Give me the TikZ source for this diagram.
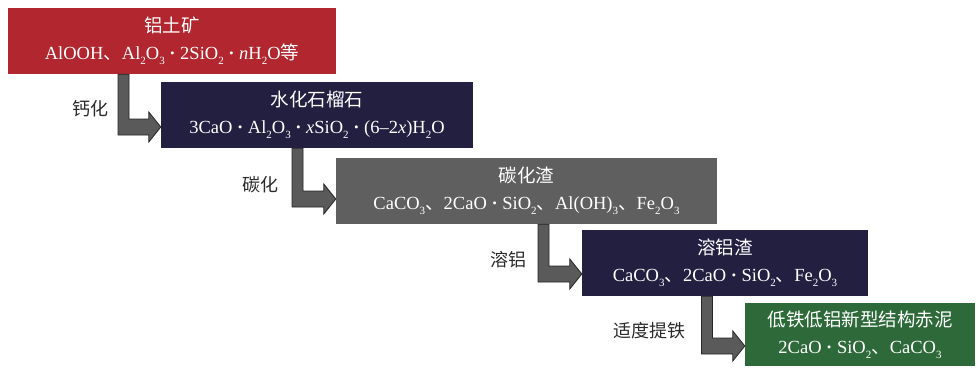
\documentclass[tikz,border=0pt]{standalone}
\usepackage{fontspec}
\setmainfont{Liberation Serif}
\newfontfamily\cjk{Noto Sans CJK SC}
\usetikzlibrary{calc}
\definecolor{cred}{HTML}{B1262F}
\definecolor{cnavy}{HTML}{231F40}
\definecolor{cgray}{HTML}{5F5F5F}
\definecolor{cgreen}{HTML}{2E6A39}
\definecolor{carrow}{HTML}{5A5A5A}
\definecolor{clabel}{HTML}{2A2A2A}
\newcommand\sbt[1]{\raisebox{-0.55ex}{\fontsize{11}{11}\selectfont #1}}
\newcommand\dun{{\cjk 、}}
\newcommand\mdt{\ \textbf{·}\ }
% #1 source node, #2 target node, #3 shaft centre x, #4 tip y (pixels, downward)
\newcommand\elbow[4]{%
  \draw[flowarrow] let \p1=(#1.south), \p2=(#2.west) in
    (#3-5.5,\y1) -- (#3+5.5,\y1) -- (#3+5.5,-#4+8) -- (\x2-12,-#4+8)
    -- (\x2-12,-#4+15) -- (\x2,-#4) -- (\x2-12,-#4-15) -- (\x2-12,-#4-8)
    -- (#3-5.5,-#4-8) -- cycle;}
\begin{document}
\begin{tikzpicture}[x=1pt,y=1pt,
  box/.style={inner sep=0pt, text=white, align=center,
    font=\fontsize{18.5}{27}\selectfont},
  lbl/.style={text=clabel, font=\cjk\fontsize{18}{20}\selectfont, inner sep=0pt},
  flowarrow/.style={fill=carrow, draw=black!85, line width=0.8pt, line join=miter}]
\useasboundingbox (0,0) rectangle (980,-367);

\node[box, fill=cred, minimum width=328pt, minimum height=66pt] (b1) at (172,-41)
  {{\cjk 铝土矿}\\AlOOH\dun Al\sbt2O\sbt3\mdt 2SiO\sbt2\mdt\textit{n}H\sbt2O{\cjk 等}};
\node[box, fill=cnavy, minimum width=312pt, minimum height=66pt] (b2) at (317,-115)
  {{\cjk 水化石榴石}\\3CaO\mdt Al\sbt2O\sbt3\mdt\textit{x}SiO\sbt2\mdt(6–2\textit{x})H\sbt2O};
\node[box, fill=cgray, minimum width=381pt, minimum height=66pt] (b3) at (526.5,-191)
  {{\cjk 碳化渣}\\CaCO\sbt3\dun 2CaO\mdt SiO\sbt2\dun Al(OH)\sbt3\dun Fe\sbt2O\sbt3};
\node[box, fill=cnavy, minimum width=286pt, minimum height=66pt] (b4) at (725,-263)
  {{\cjk 溶铝渣}\\CaCO\sbt3\dun 2CaO\mdt SiO\sbt2\dun Fe\sbt2O\sbt3};
\node[box, fill=cgreen, minimum width=230pt, minimum height=63pt] (b5) at (860,-334.5)
  {{\cjk 低铁低铝新型结构赤泥}\\2CaO\mdt SiO\sbt2\dun CaCO\sbt3};

\elbow{b1}{b2}{123.5}{127}
\elbow{b2}{b3}{297.5}{199}
\elbow{b3}{b4}{543.5}{274}
\elbow{b4}{b5}{707}{346}

\node[lbl] (l1) at (90,-109) {钙化};
\node[lbl] (l2) at (260,-185) {碳化};
\node[lbl] (l3) at (508,-260) {溶铝};
\node[lbl] (l4) at (649,-331) {适度提铁};
\end{tikzpicture}
\end{document}
